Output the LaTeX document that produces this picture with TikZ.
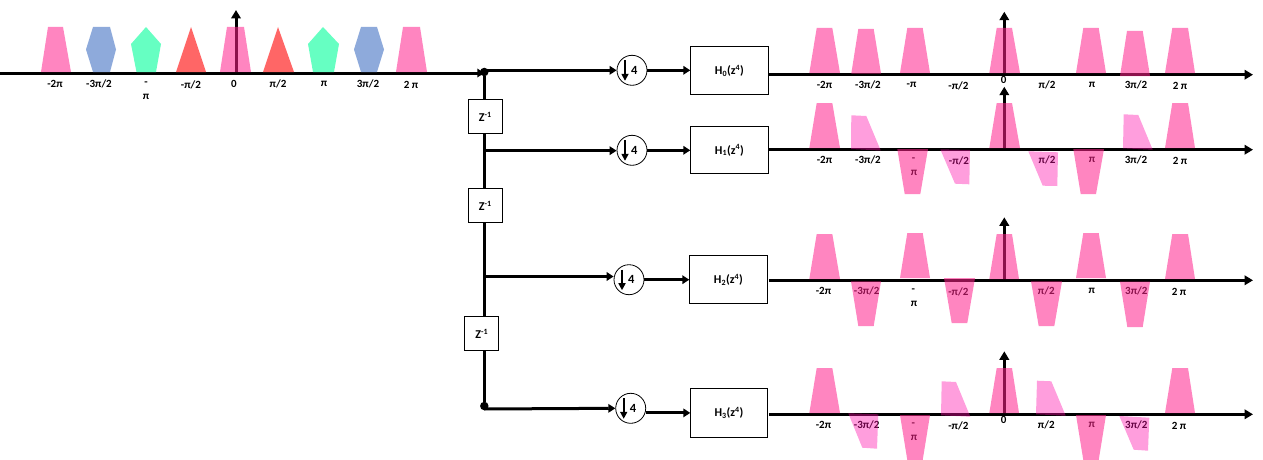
\documentclass[tikz,border=0pt]{standalone}
\usepackage{fontspec}
\setmainfont{Carlito}
\usetikzlibrary{arrows.meta}
\definecolor{pinkbase}{HTML}{FF218C}
\definecolor{lightbase}{HTML}{FF0CAA}
\definecolor{bluef}{HTML}{8EAADB}
\definecolor{greenf}{HTML}{66FFC2}
\definecolor{redf}{HTML}{FF6666}
\newcounter{lblc}
\tikzset{
  x=1pt,y=-1pt,
  axisline/.style={line width=3pt,-{Triangle[length=8.5pt,width=9.5pt]}},
  wire/.style={line width=3pt},
  conn/.style={line width=3pt,-{Triangle[length=7pt,width=8.5pt]}},
  small arrow/.style={line width=1.6pt,-{Triangle[length=7pt,width=7pt]}},
  pk/.style={fill=pinkbase,fill opacity=.55},
  lt/.style={fill=lightbase,fill opacity=.4},
  lbl/.style={font=\fontsize{11}{12}\selectfont\bfseries,inner sep=0pt},
  dbox/.style={draw,line width=.8pt,fill=white,inner sep=0pt,font=\fontsize{12}{14}\selectfont\bfseries,anchor=north west},
  dcirc/.style={draw,circle,line width=.8pt,fill=white,minimum size=30pt,inner sep=0pt},
  four/.style={font=\fontsize{12.5}{14}\selectfont\bfseries,inner sep=0pt},
  dot/.style={circle,fill=black,minimum size=8.5pt,inner sep=0pt}
}
\newcommand{\lb}[3]{\stepcounter{lblc}\node[lbl] (lbl\arabic{lblc}) at (#1,#2) {#3};}
% trapezoid: style, x-base-left, x-top-left, x-top-right, x-base-right, y-base, y-top
\newcommand{\trp}[7]{\fill[#1] (#2,#6) -- (#3,#7) -- (#4,#7) -- (#5,#6) -- cycle;}
\newcommand{\qd}[9]{\fill[#1] (#2,#3) -- (#4,#5) -- (#6,#7) -- (#8,#9) -- cycle;}
\newcommand{\zbox}[4]{\node[dbox,minimum width=#3pt,minimum height=34pt] (#4) at (#1,#2) {Z\textsuperscript{-1}};}
\begin{document}
\begin{tikzpicture}
\useasboundingbox (0,0) rectangle (1263,460);

% ---------- input axis and spectrum
\node[dot] (d0) at (484.3,72) {};
\node[dot] (d3) at (484.3,406) {};
\coordinate (in0) at (0,73);
\coordinate (v9b) at (236,73);
\coordinate (v9t) at (236,10);
\draw[conn] (in0) -- (in0 -| d0);
\draw[axisline] (v9b) -- (v9t);

\lb{55}{84}{-2π}
\lb{99}{84}{-3π/2}
\lb{146}{84}{-}
\lb{146}{97}{π}
\lb{191}{85}{-π/2}
\lb{234}{84}{0}
\lb{278}{84}{π/2}
\lb{324}{84}{π}
\lb{368}{84}{3π/2}
\lb{411}{85}{2 π}

\trp{pk}{41}{48}{63}{71}{72}{27}
\fill[bluef] (86,49.5) -- (93,27) -- (110,27) -- (116,49.5) -- (110,72) -- (93,72) -- cycle;
\fill[greenf] (146,27) -- (161,44) -- (156,72) -- (136.5,72) -- (131,44) -- cycle;
\fill[redf] (176,72) -- (191,27) -- (206,72) -- cycle;
\trp{pk}{220}{227}{244}{251}{72}{27}
\fill[redf] (263,72) -- (278,27) -- (294,72) -- cycle;
\fill[greenf] (323,27) -- (339,44) -- (334,72) -- (313,72) -- (308,44) -- cycle;
\fill[bluef] (354,49.5) -- (361,27) -- (377,27) -- (384,49.5) -- (377,72) -- (361,72) -- cycle;
\trp{pk}{396}{403}{420}{427}{72}{27}

% ---------- delay line
\zbox{468}{99.3}{33.7}{z1}
\zbox{468}{188.3}{33.7}{z2}
\zbox{464.3}{316.3}{34}{z3}
\draw[wire] (d0) -- (d0 |- z1.north);
\draw[wire] (d0 |- z1.south) -- (d0 |- z2.north);
\draw[wire] (d0 |- z2.south) -- (d0 |- z3.north);
\draw[wire] (d0 |- z3.south) -- (d3);

% ---------- decimators
\node[dcirc] (c0) at (632,70.3) {};
\node[dcirc] (c1) at (632,150.3) {};
\node[dcirc] (c2) at (629,279.7) {};
\node[dcirc] (c3) at (630.7,408.3) {};
\node[four] (f0) at (634.3,70) {4};
\node[four] (f1) at (634.3,150) {4};
\node[four] (f2) at (631.3,279) {4};
\node[four] (f3) at (633,408) {4};
\foreach \c in {c0,c1,c2,c3}{
  \draw[small arrow] ([shift={(-7,-10)}]\c.center) -- ([shift={(-7,10.5)}]\c.center);
}

% ---------- filters
\node[dbox,minimum width=77.4pt,minimum height=48pt] (h0) at (690.3,46.3) {H\textsubscript{0}(z\textsuperscript{4})};
\node[dbox,minimum width=77.4pt,minimum height=47pt] (h1) at (690.3,126.3) {H\textsubscript{1}(z\textsuperscript{4})};
\node[dbox,minimum width=77.4pt,minimum height=48pt] (h2) at (689.3,255.3) {H\textsubscript{2}(z\textsuperscript{4})};
\node[dbox,minimum width=76.6pt,minimum height=48.4pt] (h3) at (690.3,388.3) {H\textsubscript{3}(z\textsuperscript{4})};

% ---------- branches
\coordinate (j1) at (485,150.7);
\coordinate (j2) at (486,276.5);
\draw[conn] (d0 |- c0) -- (c0.west);
\draw[conn] (j1) -- (j1 -| c1.west);
\draw[conn] (j2) -- (j2 -| c2.west);
\draw[conn] (484.3,409) -- (c3.west);
\draw[conn] (c0.east) -- (c0.east -| h0.west);
\draw[conn] (c1.east) -- (c1.east -| h1.west);
\draw[conn] (c2.east) -- (c2.east -| h2.west);
\draw[conn] (c3.east |- h3.west) -- (h3.west);

% ---------- output axes
\coordinate (a0s) at (769,74.7);  \coordinate (a0e) at (1253,74.7);
\coordinate (a1s) at (769,149.7); \coordinate (a1e) at (1253,149.7);
\coordinate (a2s) at (769,280.3); \coordinate (a2e) at (1253,280.3);
\coordinate (a3s) at (769,414.3); \coordinate (a3e) at (1253,414.3);
\foreach \a in {a0,a1,a2,a3}{ \draw[axisline] (\a s) -- (\a e); }
\coordinate (v0t) at (1004.3,11.7);
\coordinate (v1t) at (1004.3,86.7);
\coordinate (v2t) at (1004.3,217.3);
\coordinate (v3t) at (1004.3,351.3);
\draw[axisline] (a0s -| v0t) -- (v0t);
\draw[axisline] (a1s -| v1t) -- (v1t);
\draw[axisline] (a2s -| v2t) -- (v2t);
\draw[axisline] (a3s -| v3t) -- (v3t);

% ---------- labels, row 0
\lb{824.5}{85}{-2π}
\lb{868}{85}{-3π/2}
\lb{911.5}{85}{-π}
\lb{958.5}{86}{-π/2}
\lb{1003.7}{80}{0}
\lb{1047}{85}{π/2}
\lb{1092}{85}{π}
\lb{1136}{85}{3π/2}
\lb{1180}{86}{2 π}
% row 1
\lb{824.5}{160}{-2π}
\lb{868}{160}{-3π/2}
\lb{913.5}{160}{-}
\lb{914}{173}{π}
\lb{959}{161}{-π/2}
\lb{1047}{160}{π/2}
\lb{1092}{160}{π}
\lb{1136}{160}{3π/2}
\lb{1180}{161}{2 π}
% row 2
\lb{823.5}{291}{-2π}
\lb{866.7}{291}{-3π/2}
\lb{913.3}{291}{-}
\lb{914}{304}{π}
\lb{958.3}{292}{-π/2}
\lb{1046.3}{291}{π/2}
\lb{1091.7}{291}{π}
\lb{1136.3}{291}{3π/2}
\lb{1179}{292}{2 π}
% row 3
\lb{823.5}{425}{-2π}
\lb{866.7}{425}{-3π/2}
\lb{913.3}{425}{-}
\lb{914}{438}{π}
\lb{958.3}{426}{-π/2}
\lb{1003.7}{420}{0}
\lb{1046.3}{425}{π/2}
\lb{1091.7}{425}{π}
\lb{1136.3}{425}{3π/2}
\lb{1179}{426}{2 π}

% ---------- spectra, row 0
\trp{pk}{809.3}{816.7}{832.3}{840}{73}{28}
\trp{pk}{851.3}{858.3}{873.7}{881}{73.5}{29}
\trp{pk}{900}{907.3}{922.7}{930}{73}{28}
\trp{pk}{989.3}{996.7}{1012}{1020}{73}{28}
\trp{pk}{1076}{1083.3}{1098.7}{1106}{73}{28}
\trp{pk}{1120}{1127}{1142.7}{1150}{76}{31}
\trp{pk}{1165}{1172.3}{1188}{1195}{73}{28}
% row 1
\trp{pk}{809.3}{816.7}{832.3}{840}{148}{103}
\qd{lt}{851.3}{115.3}{866.3}{116}{880.7}{150.5}{851}{149}
\trp{pk}{897.3}{904.7}{920.3}{928}{149}{194}
\qd{lt}{940.3}{149.3}{970}{150}{969.3}{184.3}{955}{183.7}
\trp{pk}{989.3}{996.7}{1012}{1020}{148}{103}
\qd{lt}{1028.3}{151.3}{1058}{152.3}{1057.3}{186}{1042.7}{185.7}
\trp{pk}{1073.3}{1080.7}{1096}{1104}{149}{194}
\qd{lt}{1123.7}{114.3}{1138.3}{115}{1152.7}{149.7}{1123}{148.3}
\trp{pk}{1165}{1172.3}{1188}{1195}{148}{103}
% row 2
\trp{pk}{809.3}{816.7}{832.3}{840}{279}{234}
\trp{pk}{851}{858.3}{873.7}{881}{281.3}{326}
\trp{pk}{900}{907.3}{922.7}{930}{278}{233}
\trp{pk}{944}{951.7}{967.3}{975}{278}{323}
\trp{pk}{989.3}{996.7}{1012}{1019}{279}{234}
\trp{pk}{1031}{1038.7}{1054.3}{1062}{281.3}{326}
\trp{pk}{1076}{1083.3}{1098.7}{1106}{278}{233}
\trp{pk}{1120}{1127.3}{1142.7}{1150}{281.7}{327}
\trp{pk}{1165}{1172.3}{1188}{1195}{279}{234}
% row 3
\trp{pk}{809.3}{816.7}{832.3}{840}{413}{368}
\qd{lt}{848.3}{413.3}{878.3}{414.3}{877}{448.7}{862.3}{447.7}
\trp{pk}{900}{907.3}{922.7}{930}{415}{460}
\qd{lt}{941.7}{381.3}{956}{382}{970.3}{416.7}{941}{415.3}
\trp{pk}{989.3}{996.7}{1012}{1019}{413}{368}
\qd{lt}{1037}{380.7}{1051.3}{381.3}{1065.7}{415.7}{1036}{414.3}
\trp{pk}{1076}{1083.3}{1098.7}{1106}{415}{460}
\qd{lt}{1119.3}{416}{1149.3}{417.7}{1148}{450.7}{1133.7}{449.7}
\trp{pk}{1165}{1172.3}{1188}{1195}{413}{368}
\end{tikzpicture}
\end{document}
